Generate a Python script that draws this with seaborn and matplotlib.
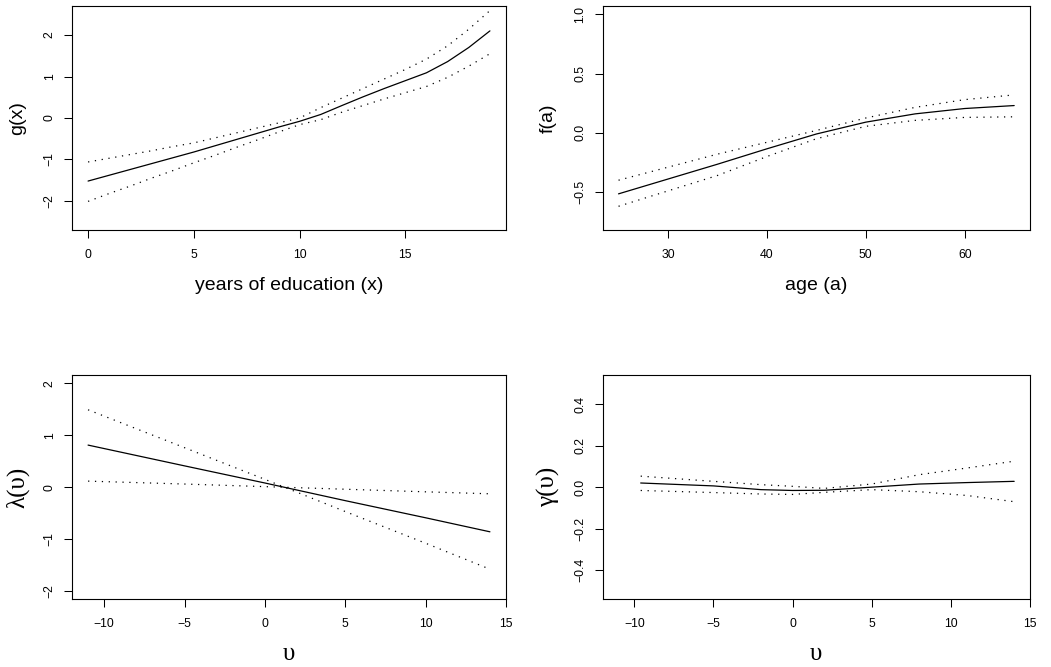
import matplotlib
matplotlib.use("Agg")
import matplotlib.pyplot as plt
import seaborn as sns
import pandas as pd

# ---------------- data ----------------
# Panel 1: g(x) vs years of education
educ_x = [0, 1, 2, 3, 4, 5, 6, 7, 8, 9, 10, 11, 12, 13, 14, 15, 16, 17, 18, 19]
g_fit = [-1.52, -1.38, -1.24, -1.10, -0.96, -0.82, -0.67, -0.52, -0.37, -0.22, -0.08, 0.085,
         0.30, 0.51, 0.71, 0.90, 1.09, 1.36, 1.70, 2.10]
g_upper = [-1.06, -0.97, -0.88, -0.79, -0.69, -0.60, -0.48, -0.36, -0.24, -0.12, 0.0, 0.25,
           0.48, 0.71, 0.94, 1.17, 1.42, 1.74, 2.14, 2.59]
g_lower = [-2.01, -1.82, -1.64, -1.45, -1.27, -1.08, -0.90, -0.71, -0.53, -0.34, -0.16, -0.04,
           0.14, 0.30, 0.46, 0.61, 0.76, 0.98, 1.25, 1.55]

# Panel 2: f(a) vs age
age_a = [25, 30, 35, 40, 45, 50, 55, 60, 65]
f_fit = [-0.515, -0.39, -0.265, -0.135, -0.01, 0.09, 0.16, 0.205, 0.23]
f_upper = [-0.40, -0.29, -0.18, -0.08, 0.02, 0.125, 0.215, 0.28, 0.32]
f_lower = [-0.62, -0.49, -0.36, -0.20, -0.05, 0.055, 0.105, 0.13, 0.135]

# Panel 3: lambda(upsilon)
lam_v = [-11, -5, 0, 5, 10, 14]
lam_fit = [0.81, 0.41, 0.08, -0.26, -0.59, -0.86]
lam_band1 = [1.49, 0.76, 0.15, -0.47, -1.08, -1.58]
lam_band2 = [0.116, 0.06, 0.01, -0.04, -0.09, -0.128]

# Panel 4: gamma(upsilon)
gam_v = [-9.6, -5, -2, 0, 2, 5, 8, 11, 14]
gam_fit = [0.02, 0.006, -0.012, -0.016, -0.015, 0.0, 0.015, 0.022, 0.028]
gam_upper = [0.053, 0.028, 0.012, 0.004, -0.006, 0.015, 0.06, 0.092, 0.125]
gam_lower = [-0.016, -0.026, -0.033, -0.035, -0.025, -0.012, -0.022, -0.04, -0.07]

# axis texts and ticks
p1_xticks = [0, 5, 10, 15]
p1_yticks = [-2, -1, 0, 1, 2]
p1_yticklabels = ["\u22122", "\u22121", "0", "1", "2"]
p2_xticks = [30, 40, 50, 60]
p2_yticks = [-0.5, 0.0, 0.5, 1.0]
p2_yticklabels = ["\u22120.5", "0.0", "0.5", "1.0"]
p3_xticks = [-10, -5, 0, 5, 10, 15]
p3_xticklabels = ["\u221210", "\u22125", "0", "5", "10", "15"]
p3_yticks = [-2, -1, 0, 1, 2]
p3_yticklabels = ["\u22122", "\u22121", "0", "1", "2"]
p4_yticks = [-0.4, -0.2, 0.0, 0.2, 0.4]
p4_yticklabels = ["\u22120.4", "\u22120.2", "0.0", "0.2", "0.4"]

# ---------------- style ----------------
sns.set_theme(style="white")
plt.rcParams["font.family"] = ["Liberation Sans", "DejaVu Sans"]
plt.rcParams["axes.edgecolor"] = "black"
plt.rcParams["axes.linewidth"] = 0.8
plt.rcParams["text.color"] = "black"
plt.rcParams["axes.labelcolor"] = "black"
plt.rcParams["xtick.color"] = "black"
plt.rcParams["ytick.color"] = "black"

W, H = 1051, 667
fig = plt.figure(figsize=(W / 100, H / 100), dpi=100)


def rect(l, t, r, b):
    return [l / W, 1 - b / H, (r - l) / W, (b - t) / H]


ax1 = fig.add_axes(rect(72, 6, 506, 230))
ax2 = fig.add_axes(rect(602.7, 6, 1030, 230))
ax3 = fig.add_axes(rect(72, 375, 506, 599.3))
ax4 = fig.add_axes(rect(602.7, 375, 1030, 599.3))

DOT = (0, (1, 4.5))


def draw(ax, x, fit, b1, b2):
    df = pd.DataFrame({"x": x, "fit": fit, "b1": b1, "b2": b2})
    sns.lineplot(data=df, x="x", y="fit", ax=ax, color="black", lw=0.9,
                 estimator=None, sort=False)
    sns.lineplot(data=df, x="x", y="b1", ax=ax, color="black", lw=0.9,
                 linestyle=DOT, estimator=None, sort=False)
    sns.lineplot(data=df, x="x", y="b2", ax=ax, color="black", lw=0.9,
                 linestyle=DOT, estimator=None, sort=False)


draw(ax1, educ_x, g_fit, g_upper, g_lower)
draw(ax2, age_a, f_fit, f_upper, f_lower)
draw(ax3, lam_v, lam_fit, lam_band1, lam_band2)
draw(ax4, gam_v, gam_fit, gam_upper, gam_lower)


def style(ax, xlim, ylim, xt, xtl, yt, ytl, xlabel, ylabel, lfont, lsize):
    ax.set_xlim(*xlim)
    ax.set_ylim(*ylim)
    ax.set_xticks(xt)
    ax.set_xticklabels(xtl)
    ax.set_yticks(yt)
    ax.set_yticklabels(ytl)
    ax.tick_params(axis="both", direction="out", length=5.5, width=0.75,
                   colors="black", labelsize=8.8, bottom=True, left=True)
    ax.tick_params(axis="x", pad=12.5)
    ax.tick_params(axis="y", pad=10.5)
    for lbl in ax.get_yticklabels():
        lbl.set_rotation(90)
        lbl.set_ha("center")
        lbl.set_va("center")
    for lbl in ax.get_xticklabels():
        lbl.set_va("center")
    for s in ax.spines.values():
        s.set_visible(True)
        s.set_color("black")
        s.set_linewidth(0.8)
    bbox = ax.get_position()
    wpx = bbox.width * W
    hpx = bbox.height * H
    ax.set_xlabel(xlabel, fontsize=lsize, family=lfont, va="center", color="black")
    ax.set_ylabel(ylabel, fontsize=lsize, family=lfont, va="center", color="black")
    ax.xaxis.set_label_coords(0.5, -55 / hpx)
    ax.yaxis.set_label_coords(-54 / wpx, 0.5)


sans = ["Liberation Sans", "DejaVu Sans"]
serif = ["Liberation Serif", "DejaVu Serif"]
style(ax1, (-0.76, 19.76), (-2.7, 2.7), p1_xticks, [str(v) for v in p1_xticks],
      p1_yticks, p1_yticklabels, "years of education (x)", "g(x)", sans, 14)
style(ax2, (23.4, 66.6), (-0.82, 1.07), p2_xticks, [str(v) for v in p2_xticks],
      p2_yticks, p2_yticklabels, "age (a)", "f(a)", sans, 14)
style(ax3, (-12, 15), (-2.16, 2.16), p3_xticks, p3_xticklabels,
      p3_yticks, p3_yticklabels, "\u03c5", "\u03bb(\u03c5)", serif, 18)
style(ax4, (-12, 15), (-0.54, 0.54), p3_xticks, p3_xticklabels,
      p4_yticks, p4_yticklabels, "\u03c5", "\u03b3(\u03c5)", serif, 18)

fig.savefig("out.png", dpi=100)
